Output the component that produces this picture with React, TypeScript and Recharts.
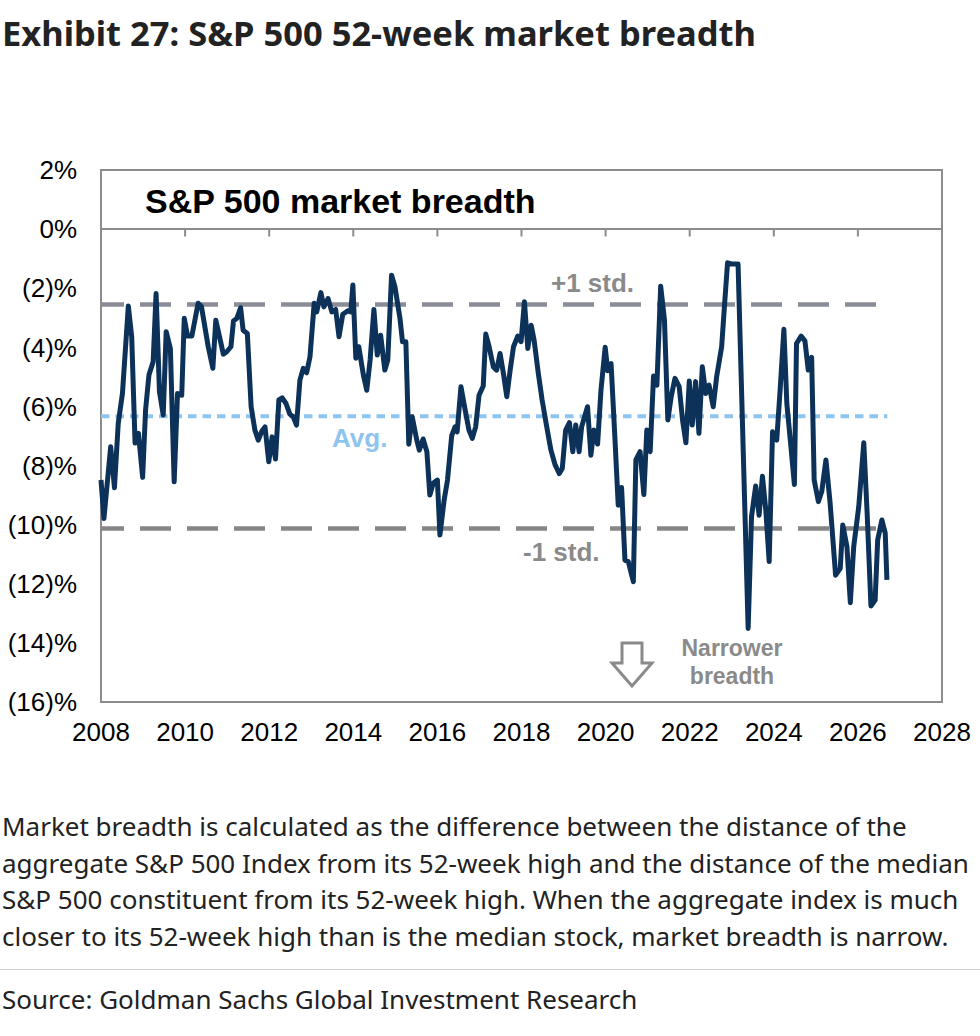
import React from 'react';
import { LineChart, Line, XAxis, YAxis, ReferenceLine, ReferenceArea } from 'recharts';

// decimal year of each observation
const dates = [
  2008.0, 2008.07, 2008.23, 2008.32, 2008.41, 2008.51, 2008.65, 2008.73, 2008.81, 2008.89, 2008.99,
  2009.06, 2009.14, 2009.24, 2009.31, 2009.39, 2009.48, 2009.55, 2009.65, 2009.74, 2009.82, 2009.92, 2009.98,
  2010.06, 2010.16, 2010.31, 2010.39, 2010.55, 2010.66, 2010.73, 2010.91, 2010.99,
  2011.09, 2011.15, 2011.23, 2011.32, 2011.38, 2011.48, 2011.57, 2011.66, 2011.74, 2011.82, 2011.9, 2011.99,
  2012.07, 2012.15, 2012.23, 2012.31, 2012.4, 2012.49, 2012.57, 2012.65, 2012.73, 2012.81, 2012.89, 2012.97,
  2013.07, 2013.13, 2013.23, 2013.3, 2013.4, 2013.49, 2013.58, 2013.66, 2013.75, 2013.87, 2013.94, 2013.99,
  2014.06, 2014.13, 2014.24, 2014.32, 2014.4, 2014.49, 2014.57, 2014.65, 2014.75, 2014.82, 2014.91, 2014.99,
  2015.11, 2015.17, 2015.25, 2015.32, 2015.4, 2015.51, 2015.57, 2015.66, 2015.75, 2015.82, 2015.9, 2016.0,
  2016.06, 2016.16, 2016.24, 2016.34, 2016.42, 2016.47, 2016.56, 2016.66, 2016.75, 2016.83, 2016.91, 2016.99,
  2017.09, 2017.15, 2017.23, 2017.33, 2017.41, 2017.49, 2017.57, 2017.65, 2017.73, 2017.81, 2017.91, 2017.99,
  2018.07, 2018.15, 2018.23, 2018.3, 2018.4, 2018.49, 2018.6, 2018.7, 2018.8, 2018.9, 2018.97,
  2019.05, 2019.14, 2019.22, 2019.29, 2019.37, 2019.43, 2019.5, 2019.57, 2019.65, 2019.72, 2019.81, 2019.89, 2019.99,
  2020.05, 2020.13, 2020.22, 2020.3, 2020.38, 2020.46, 2020.54, 2020.66, 2020.72, 2020.82, 2020.91, 2020.98,
  2021.06, 2021.14, 2021.22, 2021.31, 2021.4, 2021.48, 2021.56, 2021.65, 2021.75, 2021.83, 2021.91, 2021.99,
  2022.06, 2022.14, 2022.22, 2022.3, 2022.38, 2022.46, 2022.56, 2022.64, 2022.76, 2022.82, 2022.9,
  2023.0, 2023.15, 2023.39, 2023.47, 2023.57, 2023.65, 2023.73, 2023.81, 2023.89, 2023.97,
  2024.07, 2024.15, 2024.24, 2024.31, 2024.4, 2024.49, 2024.54, 2024.65, 2024.74, 2024.82, 2024.9, 2024.96,
  2025.06, 2025.14, 2025.24, 2025.34, 2025.4, 2025.47, 2025.58, 2025.64, 2025.74, 2025.82, 2025.9,
  2026.02, 2026.14, 2026.22, 2026.31, 2026.41, 2026.47, 2026.57, 2026.65, 2026.69,
];

// market breadth, %
const breadth = [
  -8.49, -9.79, -7.36, -8.75, -6.57, -5.56, -2.6, -3.64, -7.24, -6.91, -8.4,
  -6.12, -4.94, -4.49, -2.18, -5.5, -6.29, -3.47, -4.04, -8.55, -5.56, -5.62, -3.02,
  -3.62, -3.62, -2.51, -2.63, -3.98, -4.71, -3.08, -4.23, -4.15,
  -3.98, -3.11, -3.02, -2.66, -3.42, -3.53, -6.01, -6.8, -7.14, -6.85, -6.69, -7.87,
  -7.03, -7.78, -5.78, -5.71, -5.9, -6.26, -6.35, -6.63, -5.11, -4.71, -4.86, -4.32,
  -2.51, -2.8, -2.15, -2.63, -2.35, -2.8, -2.72, -3.64, -2.88, -2.76, -2.8, -1.89,
  -4.37, -3.98, -4.94, -5.45, -4.43, -2.72, -4.26, -3.59, -4.77, -4.43, -1.56, -1.95,
  -3.02, -3.81, -3.81, -7.28, -6.35, -7.14, -7.48, -7.1, -7.53, -9.0, -8.6, -8.49,
  -10.35, -9.17, -8.49, -6.99, -6.69, -6.86, -5.33, -6.12, -6.8, -7.08, -6.69, -5.62,
  -5.31, -3.55, -3.98, -4.66, -4.77, -4.21, -4.88, -5.67, -4.77, -3.98, -3.62, -3.81,
  -2.46, -4.04, -3.25, -3.76, -4.88, -5.78, -6.69, -7.48, -7.98, -8.27, -8.1,
  -6.8, -6.55, -7.53, -6.63, -7.53, -6.69, -6.35, -6.01, -7.65, -6.8, -7.27, -5.45, -4.0,
  -4.79, -4.55, -7.03, -9.34, -8.74, -11.2, -11.25, -11.93, -7.81, -7.53, -8.98, -6.8,
  -7.53, -4.97, -5.28, -1.93, -3.08, -6.46, -5.67, -5.05, -5.33, -6.46, -7.23, -5.14,
  -6.63, -5.16, -6.91, -4.66, -5.56, -5.28, -6.01, -5.0, -3.98, -2.74, -1.14,
  -1.18, -1.18, -13.51, -9.73, -8.69, -9.68, -8.36, -9.51, -11.25, -6.86,
  -7.14, -5.45, -3.39, -5.9, -7.25, -8.64, -3.87, -3.62, -3.78, -4.77, -4.34, -8.49,
  -9.22, -8.88, -7.81, -9.28, -10.41, -11.71, -11.48, -10.01, -10.75, -12.64, -10.75,
  -9.39, -7.23, -9.62, -12.75, -12.55, -10.52, -9.84, -10.29, -11.87,
];

const yearTicks = [2008, 2010, 2012, 2014, 2016, 2018, 2020, 2022, 2024, 2026, 2028];
const pctTicks = [2, 0, -2, -4, -6, -8, -10, -12, -14, -16];

const avgLevel = -6.33;
const plusStd = -2.55;
const minusStd = -10.13;
const lastYear = 2026.7;

const footnote = [
  'Market breadth is calculated as the difference between the distance of the',
  'aggregate S&P 500 Index from its 52-week high and the distance of the median',
  'S&P 500 constituent from its 52-week high. When the aggregate index is much',
  'closer to its 52-week high than is the median stock, market breadth is narrow.',
];

const data = dates.map((year, i) => ({ year, breadth: breadth[i] }));

const pctLabel = (v: number) => (v > 0 ? `${v}%` : v === 0 ? '0%' : `(${-v})%`);

const navy = '#0c3259';
const frame = '#8c8c8c';
const chartFont = '"Liberation Sans", Arial, sans-serif';
const textFont = '"Noto Sans", "Open Sans", sans-serif';

export default function App() {
  return (
    <div
      style={{
        position: 'absolute',
        left: 0,
        top: 0,
        width: 980,
        height: 1036,
        background: '#fff',
        color: '#222',
        fontFamily: textFont,
        overflow: 'hidden',
      }}
    >
      <div
        style={{
          position: 'absolute',
          left: 2,
          top: 13,
          fontSize: 34.5,
          fontWeight: 700,
          lineHeight: '40px',
          whiteSpace: 'nowrap',
        }}
      >
        Exhibit 27: S&amp;P 500 52-week market breadth
      </div>

      <div style={{ position: 'absolute', left: 0, top: 0 }}>
        <LineChart
          width={980}
          height={770}
          data={data}
          margin={{ top: 170, right: 38, left: 11, bottom: 28 }}
        >
          <XAxis
            dataKey="year"
            type="number"
            domain={[2008, 2028]}
            ticks={yearTicks}
            axisLine={false}
            tickLine={false}
            tickMargin={15}
            height={40}
            tick={{ fill: '#000', fontSize: 26, fontFamily: chartFont }}
          />
          <YAxis
            type="number"
            domain={[-16, 2]}
            ticks={pctTicks}
            tickFormatter={pctLabel}
            axisLine={false}
            tickLine={false}
            tickMargin={18}
            width={90}
            tick={{ fill: '#000', fontSize: 26, fontFamily: chartFont }}
          />
          <ReferenceArea
            x1={2008}
            x2={2028}
            y1={-16}
            y2={2}
            fill="none"
            stroke={frame}
            strokeWidth={2}
            fillOpacity={0}
          />
          <ReferenceLine y={0} stroke={frame} strokeWidth={2} />
          {yearTicks.slice(1).map((yr) => (
            <ReferenceLine
              key={yr}
              segment={[
                { x: yr, y: 0 },
                { x: yr, y: -0.25 },
              ]}
              stroke={frame}
              strokeWidth={2}
            />
          ))}
          <ReferenceLine
            segment={[
              { x: 2008, y: plusStd },
              { x: lastYear, y: plusStd },
            ]}
            stroke="#8a8d97"
            strokeWidth={4.5}
            strokeDasharray="31 16"
            strokeDashoffset={8}
          />
          <ReferenceLine
            segment={[
              { x: 2008, y: minusStd },
              { x: lastYear, y: minusStd },
            ]}
            stroke="#868686"
            strokeWidth={4.5}
            strokeDasharray="31 16"
            strokeDashoffset={8}
          />
          <ReferenceLine
            segment={[
              { x: 2008, y: avgLevel },
              { x: lastYear, y: avgLevel },
            ]}
            stroke="#8ec5ee"
            strokeWidth={4}
            strokeDasharray="8.5 6"
          />
          <Line
            type="linear"
            dataKey="breadth"
            stroke={navy}
            strokeWidth={5}
            dot={false}
            strokeLinejoin="round"
            isAnimationActive={false}
          />
        </LineChart>
      </div>

      <svg
        width={980}
        height={770}
        style={{ position: 'absolute', left: 0, top: 0, pointerEvents: 'none' }}
        fontFamily={chartFont}
        fontWeight={700}
      >
        <text x={145} y={213} fontSize={34} fill="#000">
          S&amp;P 500 market breadth
        </text>
        <text x={551} y={292} fontSize={26} fill="#8a8a8a">
          +1 std.
        </text>
        <text x={332} y={447} fontSize={26} fill="#8ec5ee">
          Avg.
        </text>
        <text x={523} y={561} fontSize={26} fill="#8a8a8a">
          -1 std.
        </text>
        <text x={732} y={656} fontSize={23} fill="#8a8a8a" textAnchor="middle">
          Narrower
        </text>
        <text x={732} y={684} fontSize={23} fill="#8a8a8a" textAnchor="middle">
          breadth
        </text>
        <polygon
          points="622,643 642,643 642,663 652,663 632,686 612,663 622,663"
          fill="#fff"
          stroke="#8a8a8a"
          strokeWidth={3}
          strokeLinejoin="miter"
        />
      </svg>

      {footnote.map((line, i) => (
        <div
          key={i}
          style={{
            position: 'absolute',
            left: 2,
            top: 808 + i * 36.5,
            fontSize: 26,
            lineHeight: '36px',
            whiteSpace: 'nowrap',
          }}
        >
          {line}
        </div>
      ))}

      <div style={{ position: 'absolute', left: 0, top: 969, width: 980, height: 1, background: '#cfcfcf' }} />

      <div
        style={{
          position: 'absolute',
          left: 2,
          top: 981,
          fontSize: 26,
          lineHeight: '36px',
          whiteSpace: 'nowrap',
        }}
      >
        Source: Goldman Sachs Global Investment Research
      </div>
    </div>
  );
}
